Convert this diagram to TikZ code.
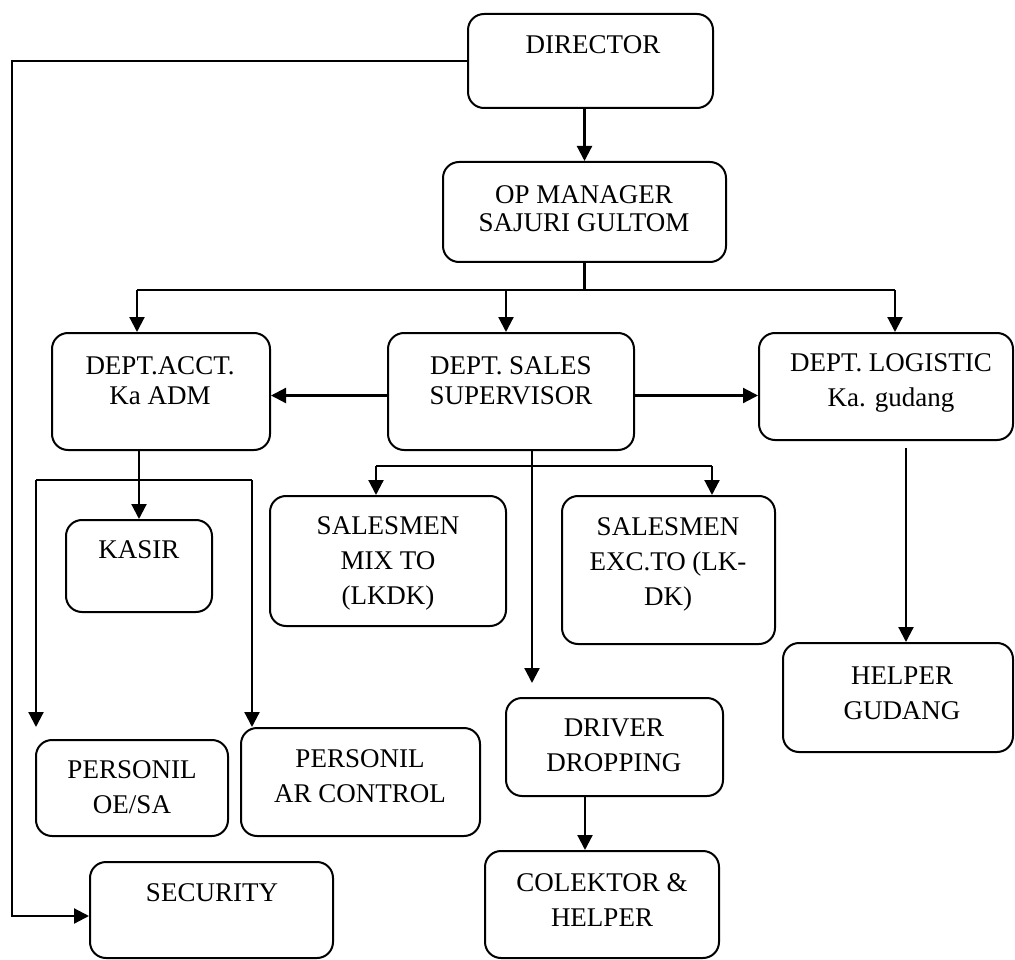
\documentclass[tikz,border=0pt]{standalone}
\usepackage{fontspec}
\setmainfont{Liberation Serif}
\usetikzlibrary{arrows.meta}
\begin{document}
\begin{tikzpicture}[x=1pt,y=-1pt,
  box/.style={draw, line width=2pt, rounded corners=16pt, inner sep=0pt},
  txt/.style={inner sep=0pt, align=center, font=\fontsize{27}{35}\selectfont},
  txtn/.style={inner sep=0pt, align=center, font=\fontsize{27}{30}\selectfont},
  txto/.style={inner sep=0pt, align=center, font=\fontsize{27}{28}\selectfont},
  ln/.style={line width=2.2pt},
  arr/.style={ln, -{Triangle[length=15pt,width=15pt]}}]
\useasboundingbox (0,0) rectangle (1015,960);

% boxes
\node[box, minimum width=245pt, minimum height=94pt]  (dir)      at (590.5,61)  {};
\node[box, minimum width=283pt, minimum height=100pt] (op)       at (584.5,212) {};
\node[box, minimum width=218pt, minimum height=117pt] (acct)     at (161,391.5) {};
\node[box, minimum width=246pt, minimum height=117pt] (sales)    at (511,391.5) {};
\node[box, minimum width=254pt, minimum height=107pt] (log)      at (886,386.5) {};
\node[box, minimum width=146pt, minimum height=92pt]  (kasir)    at (139,566)   {};
\node[box, minimum width=236pt, minimum height=130pt] (mix)      at (388,561)   {};
\node[box, minimum width=213pt, minimum height=148pt] (exc)      at (668.5,570) {};
\node[box, minimum width=230pt, minimum height=109pt] (helperg)  at (898,697.5) {};
\node[box, minimum width=192pt, minimum height=96pt]  (oesa)     at (132,788)   {};
\node[box, minimum width=239pt, minimum height=108pt] (arc)      at (360.5,782) {};
\node[box, minimum width=243pt, minimum height=96pt]  (security) at (211.5,910) {};
\node[box, minimum width=217pt, minimum height=98pt]  (driver)   at (614.5,747) {};
\node[box, minimum width=234pt, minimum height=107pt] (colektor) at (602,904.5) {};

% texts
\node[txt]  (dir-t)      at (593,45)    {DIRECTOR};
\node[txto] (op-t)       at (584,209)   {OP MANAGER\\SAJURI GULTOM};
\node[txtn] (acct-t)     at (160,381)   {DEPT.ACCT.\\Ka ADM};
\node[txtn] (sales-t)    at (511,381)   {DEPT. SALES\\SUPERVISOR};
\node[txt]  (log-t)      at (891,382.5) {DEPT. LOGISTIC\\Ka. gudang};
\node[txt]  (kasir-t)    at (139,550)   {KASIR};
\node[txt]  (mix-t)      at (388,563)   {SALESMEN\\MIX TO\\(LKDK)};
\node[txt]  (exc-t)      at (668,564.5) {SALESMEN\\EXC.TO (LK-\\DK)};
\node[txt]  (helperg-t)  at (902,693)   {HELPER\\GUDANG};
\node[txt]  (oesa-t)     at (132,787.5) {PERSONIL\\OE/SA};
\node[txt]  (arc-t)      at (360,776.5) {PERSONIL\\AR CONTROL};
\node[txt]  (security-t) at (212,893)   {SECURITY};
\node[txt]  (driver-t)   at (614,745.5) {DRIVER\\DROPPING};
\node[txt]  (colektor-t) at (602,900)   {COLEKTOR \&\\HELPER};

% helper coordinates
\coordinate (lt) at (12,61);
\coordinate (b1) at (137,290);
\coordinate (b2) at (506,290);
\coordinate (b3) at (895,290);
\coordinate (k1) at (36,480);
\coordinate (k2) at (252,480);
\coordinate (oe-in) at (36,727);
\coordinate (sv) at (532,450);
\coordinate (drv-in) at (532,683);
\coordinate (s1) at (376,466);
\coordinate (s2) at (712,466);
\coordinate (lg) at (906,448);
\coordinate (dc) at (585,0);

% connectors
\draw[arr] (dir.west) -- (lt) |- ([yshift=-6pt]security.west);
\draw[arr] (op.north |- dir.south) -- (op.north);
\draw[ln] (op.south) -- (op.south |- b1);
\draw[ln] (b1) -- (b3);
\draw[arr] (b1) -- (b1 |- acct.north);
\draw[arr] (b2) -- (b2 |- sales.north);
\draw[arr] (b3) -- (b3 |- log.north);
\draw[arr] ([yshift=-4pt]sales.west) -- ([yshift=-4pt]sales.west -| acct.east);
\draw[arr] ([yshift=-4pt]sales.east) -- ([yshift=-4pt]sales.east -| log.west);
\draw[arr] (acct.south -| kasir.north) -- (kasir.north);
\draw[ln] (k1) -- (k2);
\draw[arr] (k1) -- (oe-in);
\draw[arr] (k2) -- (k2 |- arc.north);
\draw[arr] (sv) -- (drv-in);
\draw[ln] (s1) -- (s2);
\draw[arr] (s1) -- (s1 |- mix.north);
\draw[arr] (s2) -- (s2 |- exc.north);
\draw[arr] (lg) -- (lg |- helperg.north);
\draw[arr] (driver.south -| dc) -- (colektor.north -| dc);
\end{tikzpicture}
\end{document}
